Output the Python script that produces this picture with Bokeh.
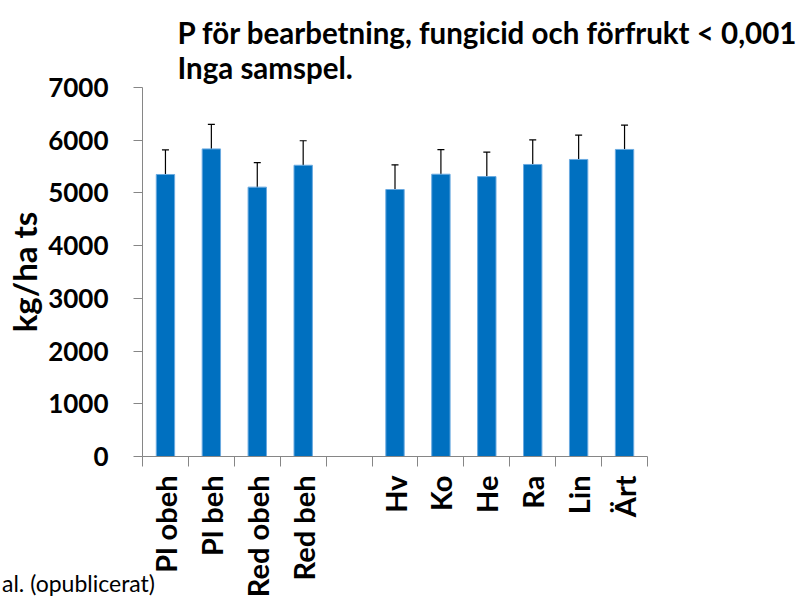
from bokeh.plotting import figure
from bokeh.models import (Range1d, FixedTicker, ColumnDataSource, Whisker, TeeHead, Div)
from bokeh.layouts import column
from bokeh.embed import file_html
from bokeh.resources import INLINE
import math

# ---- data ----
categories = ["Pl obeh", "Pl beh", "Red obeh", "Red beh", "", "Hv", "Ko", "He", "Ra", "Lin", "Ärt"]
yield_kg = [5350, 5835, 5110, 5525, None, 5065, 5355, 5310, 5540, 5635, 5825]
error_kg = [465, 465, 465, 465, None, 468, 468, 465, 465, 463, 463]
y_ticks = [0, 1000, 2000, 3000, 4000, 5000, 6000, 7000]
title_lines = ["P för bearbetning, fungicid och förfrukt < 0,001", "Inga samspel."]
source_note = "al. (opublicerat)"
y_label = "kg/ha ts"

FONT = "Lato"

xs, tops, ups, lows = [], [], [], []
for i, (v, e) in enumerate(zip(yield_kg, error_kg)):
    if v is None:
        continue
    xs.append(i + 0.5)
    tops.append(v)
    ups.append(v + e)
    lows.append(v - e)
src = ColumnDataSource(dict(x=xs, top=tops, upper=ups, lower=lows))

W, H = 803, 600
p = figure(width=W, height=H, output_backend="svg", toolbar_location=None,
           x_range=Range1d(0, len(categories)), y_range=Range1d(0, 7000),
           min_border_left=142, min_border_right=156, min_border_top=87, min_border_bottom=143)
p.outline_line_color = None
p.xgrid.grid_line_color = None
p.ygrid.grid_line_color = None
p.background_fill_color = "white"
p.border_fill_color = "white"

p.title.text = "\n".join(title_lines)
p.title.align = "left"
p.title.offset = 35
p.title.standoff = 6
p.title.text_font = FONT
p.title.text_font_style = "bold"
p.title.text_font_size = "29.5px"
p.title.text_line_height = 1.0
p.title.text_color = "black"

p.vbar(x="x", top="top", width=0.4, source=src, fill_color="#0070C0",
       line_color="#6AAAE0", line_width=1)

wh = Whisker(source=src, base="x", upper="upper", lower="lower", line_color="black", line_width=1.2,
             upper_head=TeeHead(size=7, line_color="black", line_width=1.2),
             lower_head=TeeHead(size=7, line_color="black", line_width=1.2))
p.add_layout(wh)

axis_col = "#868686"
# x axis
xa = p.xaxis[0]
xa.ticker = FixedTicker(ticks=[i + 0.5 for i in range(len(categories))],
                        minor_ticks=list(range(len(categories) + 1)))
xa.major_label_overrides = {i + 0.5: c for i, c in enumerate(categories)}
xa.major_label_orientation = math.pi / 2
xa.major_tick_line_color = None
xa.major_tick_out = 0
xa.major_tick_in = 0
xa.minor_tick_out = 10
xa.minor_tick_in = 0
xa.minor_tick_line_color = axis_col
xa.axis_line_color = axis_col
xa.major_label_text_font = FONT
xa.major_label_text_font_style = "bold"
xa.major_label_text_font_size = "29px"
xa.major_label_text_color = "black"
xa.major_label_standoff = 9

# y axis
ya = p.yaxis[0]
ya.ticker = FixedTicker(ticks=y_ticks, minor_ticks=[])
ya.major_tick_out = 9
ya.major_tick_in = 0
ya.minor_tick_line_color = None
ya.major_tick_line_color = axis_col
ya.axis_line_color = axis_col
ya.major_label_text_font = FONT
ya.major_label_text_font_style = "bold"
ya.major_label_text_font_size = "26px"
ya.major_label_text_color = "black"
ya.major_label_standoff = 25
ya.axis_label = y_label
ya.axis_label_text_font = FONT
ya.axis_label_text_font_style = "bold"
ya.axis_label_text_font_size = "33px"
ya.axis_label_text_color = "black"
ya.axis_label_standoff = 1

note = Div(text=source_note, width=300, height=26,
           styles={"margin-top": "-30px", "margin-left": "2px", "font-family": FONT,
                   "font-size": "23px", "color": "black", "line-height": "26px"})

layout = column(p, note, spacing=0)
open("out.html", "w").write(file_html(layout, INLINE))
